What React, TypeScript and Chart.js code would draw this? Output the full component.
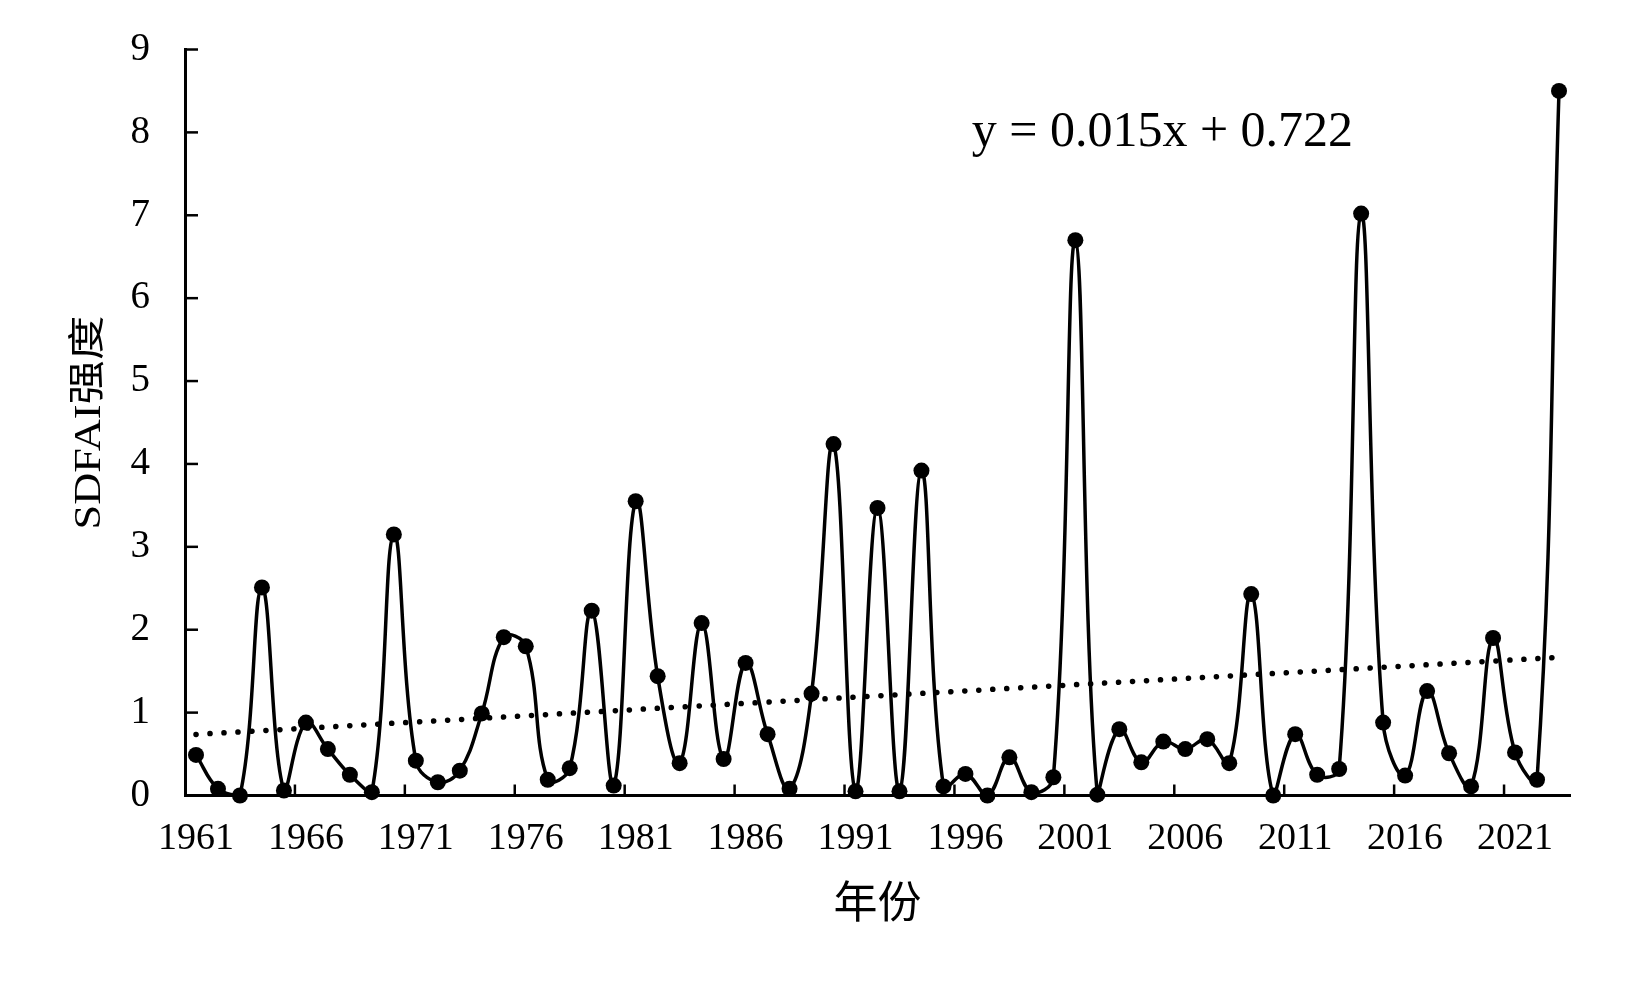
import React, { useEffect, useRef } from "react";
import { Chart, registerables } from "chart.js";

Chart.register(...registerables);

const YEARS: string[] = [
  "1961","1962","1963","1964","1965","1966","1967","1968","1969","1970",
  "1971","1972","1973","1974","1975","1976","1977","1978","1979","1980",
  "1981","1982","1983","1984","1985","1986","1987","1988","1989","1990",
  "1991","1992","1993","1994","1995","1996","1997","1998","1999","2000",
  "2001","2002","2003","2004","2005","2006","2007","2008","2009","2010",
  "2011","2012","2013","2014","2015","2016","2017","2018","2019","2020",
  "2021","2022","2023",
];

const SDFAI: number[] = [
  0.49, 0.08, 0.0, 2.51, 0.06, 0.88, 0.56, 0.25, 0.04, 3.15,
  0.42, 0.16, 0.3, 0.99, 1.91, 1.8, 0.19, 0.33, 2.23, 0.12,
  3.55, 1.44, 0.39, 2.08, 0.44, 1.6, 0.74, 0.08, 1.23, 4.24,
  0.05, 3.47, 0.05, 3.92, 0.11, 0.26, 0.0, 0.46, 0.04, 0.22,
  6.7, 0.01, 0.8, 0.4, 0.65, 0.56, 0.68, 0.39, 2.43, 0.0,
  0.74, 0.25, 0.32, 7.02, 0.88, 0.24, 1.26, 0.51, 0.11, 1.9,
  0.52, 0.19, 8.5,
];

const TREND_SLOPE = 0.015;
const TREND_INTERCEPT = 0.722;
const EQUATION_TEXT = "y = 0.015x + 0.722";
const Y_TICKS: number[] = [0, 1, 2, 3, 4, 5, 6, 7, 8, 9];
const X_LABEL_EVERY = 5;
const X_TITLE = "年份";
const Y_TITLE = "SDFAI强度";

const FONT = "'Liberation Serif', 'Times New Roman', 'Noto Sans CJK SC', serif";

const trendValues = YEARS.map((_, i) => TREND_SLOPE * (i + 1) + TREND_INTERCEPT);

const innerTicksPlugin = {
  id: "innerTicks",
  afterDraw(chart: any) {
    const { ctx, chartArea, scales } = chart;
    const xs = scales.x;
    const ys = scales.y;
    ctx.save();
    ctx.strokeStyle = "#000";
    ctx.lineWidth = 2.5;
    // y ticks inward
    Y_TICKS.forEach((v) => {
      const y = ys.getPixelForValue(v);
      ctx.beginPath();
      ctx.moveTo(chartArea.left, y);
      ctx.lineTo(chartArea.left + 13, y);
      ctx.stroke();
    });
    // x ticks inward at category boundaries
    const half = (xs.getPixelForValue(1) - xs.getPixelForValue(0)) / 2;
    for (let i = X_LABEL_EVERY; i < YEARS.length; i += X_LABEL_EVERY) {
      const x = xs.getPixelForValue(i) - half;
      ctx.beginPath();
      ctx.moveTo(x, chartArea.bottom);
      ctx.lineTo(x, chartArea.bottom - 11);
      ctx.stroke();
    }
    // equation
    ctx.fillStyle = "#000";
    ctx.font = `50px ${FONT}`;
    ctx.textAlign = "left";
    ctx.textBaseline = "middle";
    const ex = chartArea.left + (chartArea.right - chartArea.left) * 0.568;
    ctx.fillText(EQUATION_TEXT, ex, ys.getPixelForValue(8));

    // y-axis title (rotated, slightly stretched along its length like the reference)
    ctx.save();
    ctx.translate(90, (chartArea.top + chartArea.bottom) / 2);
    ctx.rotate(-Math.PI / 2);
    ctx.scale(1.2, 1);
    ctx.font = `37px ${FONT}`;
    ctx.textAlign = "center";
    ctx.textBaseline = "middle";
    ctx.fillText(Y_TITLE, 0, 0);
    ctx.restore();

    ctx.restore();
  },
};

export default function App() {
  const ref = useRef<HTMLCanvasElement | null>(null);

  useEffect(() => {
    if (!ref.current) return;
    Chart.defaults.font.family = FONT;
    Chart.defaults.color = "#000";
    const chart = new Chart(ref.current, {
      type: "line",
      data: {
        labels: YEARS,
        datasets: [
          {
            label: "SDFAI",
            data: SDFAI,
            borderColor: "#000",
            backgroundColor: "#000",
            borderWidth: 3.5,
            pointRadius: 8,
            pointHoverRadius: 8,
            pointBackgroundColor: "#000",
            pointBorderColor: "#000",
            pointBorderWidth: 0,
            tension: 0.4,
            clip: false as any,
          },
          {
            label: "trend",
            data: trendValues,
            borderColor: "#000",
            borderWidth: 5.5,
            borderDash: [0.1, 13.9],
            borderCapStyle: "round",
            pointRadius: 0,
            tension: 0,
            clip: false as any,
          },
        ],
      },
      options: {
        animation: false,
        responsive: false,
        events: [],
        layout: { autoPadding: false, padding: { top: 49.5, right: 80, left: 0, bottom: 0 } },
        plugins: {
          legend: { display: false },
          tooltip: { enabled: false },
        },
        scales: {
          x: {
            type: "category",
            offset: true,
            grid: { display: true, drawOnChartArea: false, drawTicks: false, offset: true },
            border: { display: true, color: "#000", width: 3 },
            ticks: {
              autoSkip: false,
              maxRotation: 0,
              minRotation: 0,
              padding: 21,
              color: "#000",
              font: { size: 38, family: FONT },
              callback: (_v: any, idx: number) => (idx % X_LABEL_EVERY === 0 ? YEARS[idx] : ""),
            },
            title: {
              display: true,
              text: X_TITLE,
              color: "#000",
              font: { size: 44, family: FONT },
              padding: { top: 0, bottom: 57 },
            },
            afterFit: (s: any) => {
              s.height = 194.5;
              s.paddingLeft = 0;
              s.paddingRight = 0;
            },
          },
          y: {
            min: 0,
            max: 9,
            grid: { display: true, drawOnChartArea: false, drawTicks: false },
            border: { display: true, color: "#000", width: 3 },
            ticks: {
              stepSize: 1,
              padding: 35,
              color: "#000",
              font: { size: 39, family: FONT },
            },
            title: { display: false },
            afterFit: (s: any) => {
              s.width = 185;
              s.paddingTop = 0;
              s.paddingBottom = 0;
            },
          },
        },
      },
      plugins: [innerTicksPlugin],
    });
    return () => chart.destroy();
  }, []);

  return (
    <div style={{ position: "relative", width: 1650, height: 990 }}>
      <canvas
        ref={ref}
        width={1650}
        height={990}
        style={{ position: "fixed", left: 0, top: 0, width: 1650, height: 990, background: "#fff" }}
      />
    </div>
  );
}
